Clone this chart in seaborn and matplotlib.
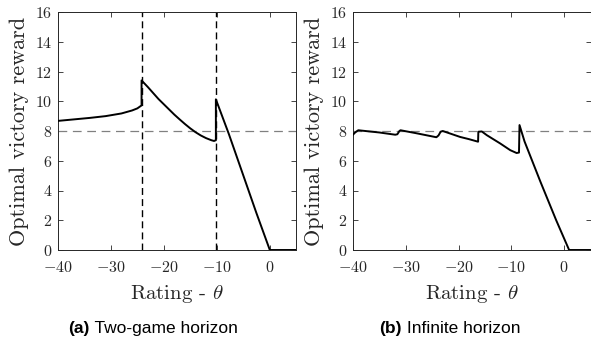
import numpy as np
import pandas as pd
import matplotlib
matplotlib.use("Agg")
import matplotlib.pyplot as plt
import seaborn as sns

# ---- data ----
theta_a = [-40, -37, -34, -31, -28, -26, -25, -24.2, -24.2, -23, -22, -21, -20, -19, -18,
           -17, -16, -15, -14, -13, -12, -11, -10.5, -10.15, -10.15, -7.7, -5, -2.5,
           0.05, 5]
reward_a = [8.68, 8.78, 8.88, 9.0, 9.18, 9.38, 9.52, 9.72, 11.4, 10.95, 10.55, 10.15,
            9.8, 9.45, 9.1, 8.78, 8.47, 8.18, 7.92, 7.7, 7.52, 7.38, 7.33, 7.38, 10.13,
            7.8, 5.05, 2.5, 0.0, 0.0]

theta_b = [-40, -39.6, -39, -35, -32, -31.6, -31.2, -31, -28, -24.2, -23.8, -23.4, -23,
           -19.7, -18, -16.3, -16.25, -15.6, -14.65, -12.1, -10.2, -9, -8.55, -8.45,
           -7.5, -6, -4.5, -3, -1.5, 0.95, 5]
reward_b = [7.75, 7.9, 8.05, 7.9, 7.75, 7.78, 8.0, 8.05, 7.85, 7.58, 7.7, 7.95, 8.0,
            7.6, 7.45, 7.28, 7.95, 7.97, 7.72, 7.16, 6.71, 6.52, 6.55, 8.4,
            7.3, 5.95, 4.6, 3.3, 2.0, 0.0, 0.0]

reference_reward = 8
thresholds_a = [-24.2, -10.15]
xticks = [-40, -30, -20, -10, 0]
yticks = [0, 2, 4, 6, 8, 10, 12, 14, 16]
captions = [("(a)", "Two-game horizon"), ("(b)", "Infinite horizon")]
ylabel = "Optimal victory reward"
xlabel = r"Rating - $\theta$"

# ---- style ----
sns.set_theme(style="white")
plt.rcParams["font.family"] = ["cmr10"]
plt.rcParams["mathtext.fontset"] = "cm"
plt.rcParams["axes.formatter.use_mathtext"] = True
plt.rcParams["axes.unicode_minus"] = True

fig = plt.figure(figsize=(5.91, 3.37), dpi=100)
W, H = 591, 337
ax_a = fig.add_axes([58 / W, 1 - 250 / H, 238 / W, 238 / H])
ax_b = fig.add_axes([353 / W, 1 - 250 / H, 237.5 / W, 238 / H])

dark = "#262626"
datasets = [(ax_a, theta_a, reward_a), (ax_b, theta_b, reward_b)]
for ax, tx, ry in datasets:
    df = pd.DataFrame({"theta": tx, "reward": ry})
    ax.axhline(reference_reward, color="#808080", lw=0.9, ls=(0, (7, 4.5)), zorder=1)
    sns.lineplot(data=df, x="theta", y="reward", ax=ax, estimator=None, sort=False,
                 color="black", lw=1.4, zorder=3)
    ax.set_xlim(-40, 5)
    ax.set_ylim(0, 16)
    ax.set_xticks(xticks)
    ax.set_yticks(yticks)
    ax.set_xlabel(xlabel, fontsize=15, color=dark, labelpad=6)
    ax.set_ylabel(ylabel, fontsize=16, color=dark, labelpad=4)
    ax.tick_params(direction="in", length=3.5, width=0.6, colors=dark,
                   labelsize=11.5, top=True, right=True, bottom=True, left=True)
    ax.tick_params(axis="x", pad=7)
    ax.tick_params(axis="y", pad=4)
    for sp in ax.spines.values():
        sp.set_color(dark)
        sp.set_linewidth(0.7)
    ax.grid(False)

for xv in thresholds_a:
    ax_a.axvline(xv, color="black", lw=1.0, ls=(0, (5, 3)), zorder=2)

# captions: bold label + normal text, centred as a unit
fig.canvas.draw()
renderer = fig.canvas.get_renderer()
centers = [153 / W, 450 / W]
for (lab, txt), cx in zip(captions, centers):
    t1 = fig.text(0, 0.012, lab, fontsize=12.5, fontweight="bold",
                  family=["Liberation Sans"], color="black", va="baseline")
    t2 = fig.text(0, 0.012, " " + txt, fontsize=12.5,
                  family=["Liberation Sans"], color="black", va="baseline")
    w1 = t1.get_window_extent(renderer).width / W
    w2 = t2.get_window_extent(renderer).width / W
    x0 = cx - (w1 + w2) / 2
    t1.set_x(x0)
    t2.set_x(x0 + w1)

fig.savefig("out.png", dpi=100)
